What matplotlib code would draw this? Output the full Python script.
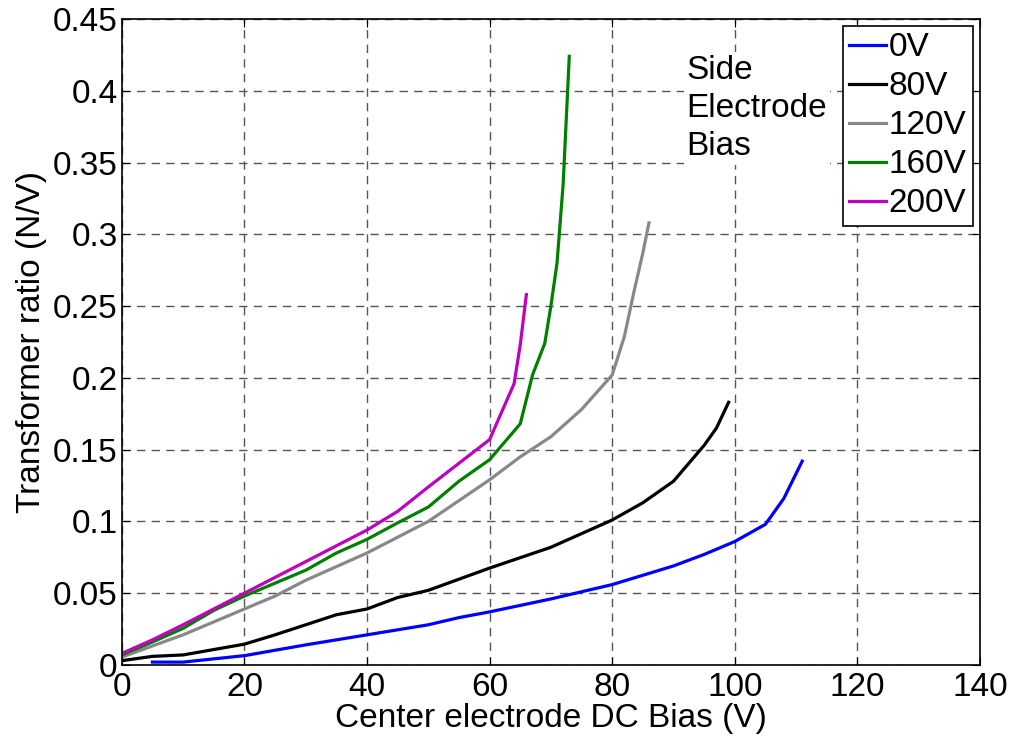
import matplotlib.pyplot as plt

plt.rcParams['font.family'] = ['Liberation Sans', 'DejaVu Sans']

# Side electrode bias series: center bias (V) vs transformer ratio (N/V)
x_0v = [5, 10, 20, 30, 40, 50, 55, 60, 70, 80, 90, 95, 100, 105, 108, 111]
y_0v = [0.002, 0.002, 0.0065, 0.014, 0.021, 0.028, 0.033, 0.037, 0.046, 0.056, 0.069, 0.077, 0.086, 0.098, 0.116, 0.142]

x_80v = [0, 5, 10, 20, 25, 30, 35, 40, 45, 50, 60, 70, 80, 85, 90, 95, 97, 99]
y_80v = [0.003, 0.006, 0.007, 0.0145, 0.021, 0.028, 0.035, 0.039, 0.047, 0.052, 0.0675, 0.082, 0.101, 0.113, 0.128, 0.153, 0.165, 0.183]

x_120v = [0, 10, 20, 25, 30, 40, 50, 60, 65, 70, 75, 80, 82, 83.5, 85, 86]
y_120v = [0.0055, 0.021, 0.039, 0.048, 0.059, 0.078, 0.1, 0.129, 0.145, 0.159, 0.178, 0.202, 0.229, 0.259, 0.287, 0.308]

x_160v = [0, 5, 10, 15, 20, 30, 35, 40, 45, 50, 55, 60, 65, 67, 69, 70, 71, 72, 73]
y_160v = [0.007, 0.016, 0.0255, 0.038, 0.048, 0.066, 0.078, 0.0875, 0.099, 0.11, 0.128, 0.143, 0.168, 0.202, 0.224, 0.25, 0.28, 0.335, 0.424]

x_200v = [0, 5, 10, 20, 30, 40, 45, 50, 55, 60, 64, 65, 66]
y_200v = [0.008, 0.0175, 0.028, 0.05, 0.072, 0.094, 0.107, 0.124, 0.1405, 0.157, 0.196, 0.223, 0.258]

series = [
    (x_0v, y_0v, '0V', '#0000ff'),
    (x_80v, y_80v, '80V', '#000000'),
    (x_120v, y_120v, '120V', '#888888'),
    (x_160v, y_160v, '160V', '#008000'),
    (x_200v, y_200v, '200V', '#bf00bf'),
]

fs = 24

fig = plt.figure(figsize=(10.15, 7.42), dpi=100)
ax = fig.add_axes([0.120, 0.1038, 0.8455, 0.8706])

for xs, ys, lab, col in series:
    ax.plot(xs, ys, color=col, linewidth=2.3, label=lab)

ax.set_xlim(0, 140)
ax.set_ylim(0, 0.45)
ax.set_xticks(range(0, 141, 20))
ax.set_yticks([0, 0.05, 0.1, 0.15, 0.2, 0.25, 0.3, 0.35, 0.4, 0.45])
ax.set_yticklabels(['0', '0.05', '0.1', '0.15', '0.2', '0.25', '0.3', '0.35', '0.4', '0.45'])
ax.tick_params(direction='in', top=True, right=True, labelsize=fs, length=6)
ax.tick_params(axis='x', pad=5)
ax.tick_params(axis='y', pad=3)
ax.grid(True, color='#555555', linestyle=(0, (6, 4.5)), linewidth=1.0)
for s in ax.spines.values():
    s.set_linewidth(1.2)

ax.set_xlabel('Center electrode DC Bias (V)', fontsize=fs, labelpad=0)
ax.set_ylabel('Transformer ratio (N/V)', fontsize=fs, labelpad=4)

ax.text(0.658, 0.945, 'Side\nElectrode\nBias', transform=ax.transAxes, fontsize=fs,
        va='top', ha='left', linespacing=1.3,
        bbox=dict(facecolor='white', edgecolor='none', pad=2))

leg = ax.legend(loc='upper right', fontsize=fs, handlelength=1.1, handletextpad=0.08,
                labelspacing=0.24, borderpad=0.2, borderaxespad=0.2, fancybox=False,
                framealpha=1)
leg.get_frame().set_edgecolor('black')
leg.get_frame().set_linewidth(1.2)

fig.savefig('out.png', dpi=100)
